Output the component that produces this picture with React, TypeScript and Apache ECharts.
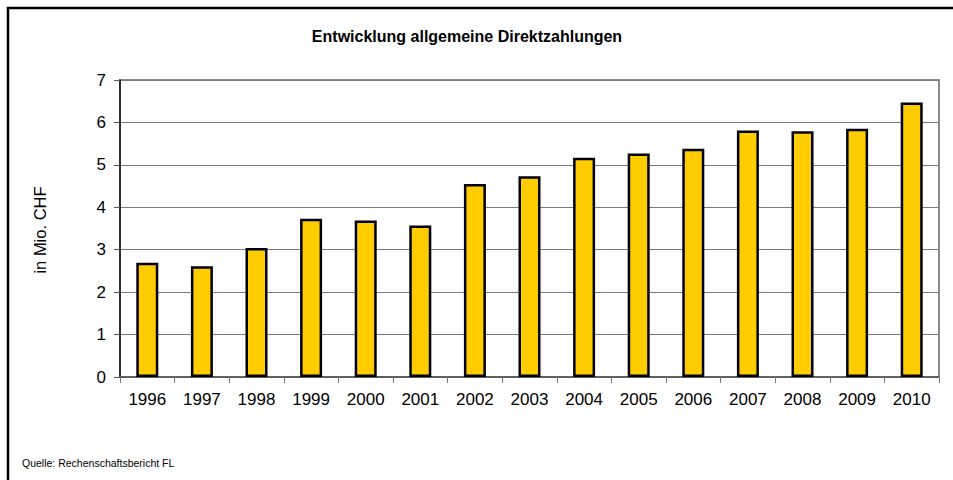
import React, { useEffect, useRef } from "react";
import * as echarts from "echarts";

const years = ["1996", "1997", "1998", "1999", "2000", "2001", "2002", "2003", "2004", "2005", "2006", "2007", "2008", "2009", "2010"];
const values = [2.69, 2.61, 3.04, 3.73, 3.69, 3.57, 4.55, 4.73, 5.17, 5.27, 5.38, 5.81, 5.79, 5.85, 6.47];
const titleText = "Entwicklung allgemeine Direktzahlungen";
const yAxisName = "in Mio. CHF";
const sourceText = "Quelle: Rechenschaftsbericht FL";

const FONT = "'Liberation Sans', Arial, sans-serif";

export default function App() {
  const ref = useRef<HTMLDivElement>(null);
  useEffect(() => {
    if (!ref.current) return;
    const chart = echarts.init(ref.current, undefined, { renderer: "svg" });
    chart.setOption({
      animation: false,
      backgroundColor: "#fff",
      grid: {
        left: 120,
        top: 80,
        right: 14,
        bottom: 103,
        show: true,
        borderColor: "#8c8c8c",
        borderWidth: 2,
        backgroundColor: "transparent",
      },
      graphic: [
        {
          type: "rect",
          shape: { x: 8, y: 8, width: 980, height: 520 },
          style: { fill: "none", stroke: "#000", lineWidth: 2.5 },
          silent: true,
        },
        {
          type: "text",
          x: 467,
          y: 36,
          style: {
            text: titleText,
            font: `bold 16px ${FONT}`,
            fill: "#000",
            align: "center",
            verticalAlign: "middle",
          },
        },
        {
          type: "text",
          x: 40,
          y: 230,
          rotation: Math.PI / 2,
          style: {
            text: yAxisName,
            font: `16.5px ${FONT}`,
            fill: "#000",
            align: "center",
            verticalAlign: "middle",
          },
        },
        {
          type: "text",
          x: 22,
          y: 463,
          style: {
            text: sourceText,
            font: `10.5px ${FONT}`,
            fill: "#000",
            align: "left",
            verticalAlign: "middle",
          },
        },
      ],
      xAxis: {
        type: "category",
        data: years,
        boundaryGap: true,
        axisLine: { show: true, lineStyle: { color: "#555", width: 1.5 } },
        axisTick: { show: true, length: 6, lineStyle: { color: "#777", width: 1 } },
        axisLabel: { color: "#000", fontSize: 17, fontFamily: FONT, margin: 14 },
        splitLine: { show: false },
      },
      yAxis: {
        type: "value",
        min: 0,
        max: 7,
        interval: 1,
        axisLine: { show: true, lineStyle: { color: "#111", width: 1.5 } },
        axisTick: { show: true, length: 6, lineStyle: { color: "#555", width: 1 } },
        axisLabel: { color: "#000", fontSize: 17, fontFamily: FONT, margin: 14 },
        splitLine: { show: true, lineStyle: { color: "#7a7a7a", width: 1 } },
      },
      series: [
        {
          type: "bar",
          data: values,
          barWidth: 22,
          itemStyle: { color: "#FFCC00", borderColor: "#000", borderWidth: 2.5 },
        },
      ],
    });
    return () => chart.dispose();
  }, []);
  return (
    <div
      ref={ref}
      style={{ position: "fixed", left: 0, top: 0, width: 953, height: 480 }}
    />
  );
}
